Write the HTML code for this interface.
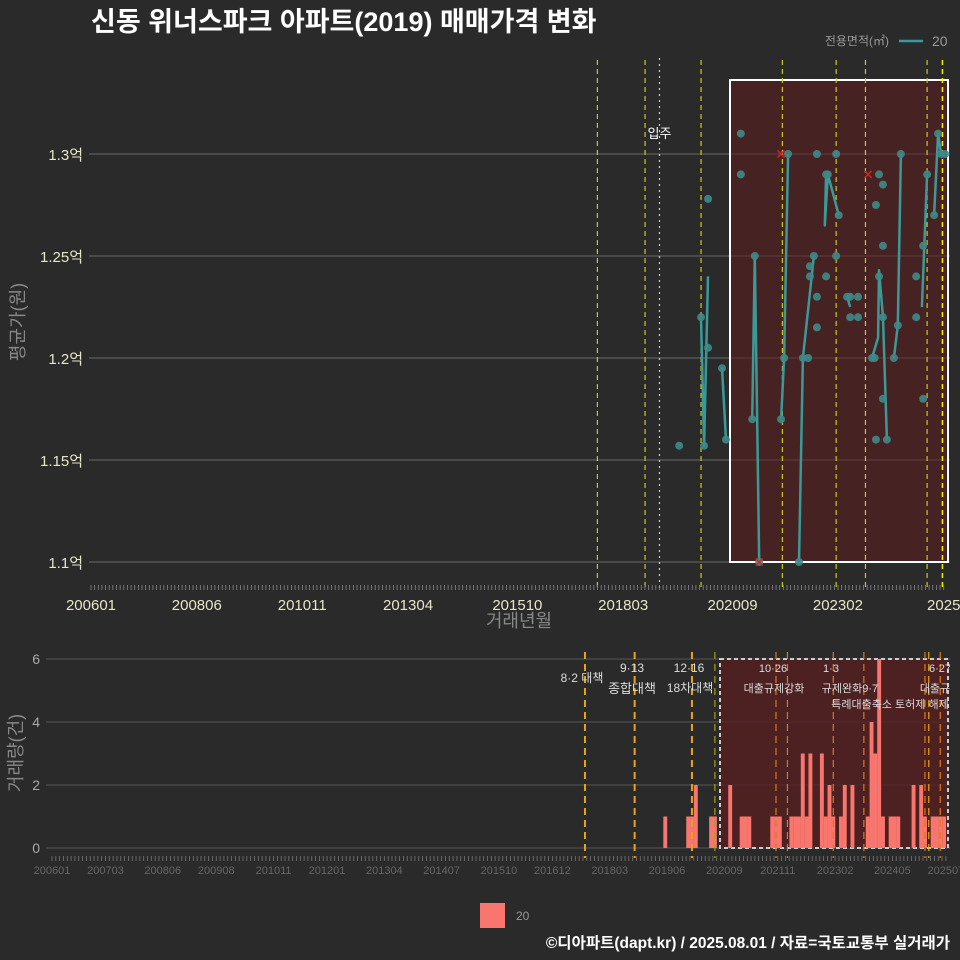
<!DOCTYPE html>
<html><head><meta charset="utf-8">
<style>
html,body{margin:0;padding:0;background:#2a2a2a;}
svg{display:block;font-family:"Liberation Sans","Noto Sans CJK KR",sans-serif;}
</style></head>
<body>
<svg id="chart" width="960" height="960" viewBox="0 0 960 960" xmlns="http://www.w3.org/2000/svg">
<rect x="0" y="0" width="960" height="960" fill="#2a2a2a"/>
<text x="91" y="31" font-size="27" font-weight="bold" fill="#ffffff">신동 위너스파크 아파트(2019) 매매가격 변화</text>
<g>
<text x="889" y="45" font-size="12" fill="#999" text-anchor="end">전용면적(㎡)</text>
<line x1="899" y1="41" x2="923" y2="41" stroke="#3a9a98" stroke-width="2.5"/>
<text x="932" y="46" font-size="14" fill="#999">20</text>
</g>
<g id="topPanel"></g>
<g id="botPanel"></g>
<g>
<rect x="480" y="903" width="25" height="25" fill="#f8766d"/>
<text x="516" y="920" font-size="12" fill="#999">20</text>
</g>
<text x="950" y="948" font-size="15.5" font-weight="bold" fill="#ffffff" text-anchor="end">©디아파트(dapt.kr) / 2025.08.01 / 자료=국토교통부 실거래가</text>
</svg>
<script>
// ---- data ----
const priceTicks = [1.1, 1.15, 1.2, 1.25, 1.3];
const priceTickLabels = ["1.1억","1.15억","1.2억","1.25억","1.3억"];
const topXLabels = ["200601","200806","201011","201304","201510","201803","202009","202302","2025"];
const topXLabelYears = [2006.0, 2008.42, 2010.83, 2013.25, 2015.75, 2018.17, 2020.67, 2023.08, 2025.5];
const pointYears = [2019.45,2019.95,2020.02,2020.11,2020.11,2020.43,2020.52,2020.86,2020.86,2021.12,2021.18,2021.28,2021.78,2021.85,2021.94,2022.19,2022.28,2022.40,2022.44,2022.44,2022.53,2022.60,2022.60,2022.60,2022.81,2022.85,2022.81,2023.04,2023.04,2023.10,2023.29,2023.36,2023.54,2023.36,2023.54,2023.86,2023.92,2023.95,2023.95,2024.02,2024.02,2024.11,2024.11,2024.11,2024.11,2024.20,2024.36,2024.45,2024.52,2024.87,2024.87,2025.03,2025.03,2025.12,2025.28,2025.37,2025.44,2025.53];
const pointPrices = [1.157,1.22,1.157,1.278,1.205,1.195,1.16,1.31,1.29,1.17,1.25,1.10,1.17,1.20,1.30,1.10,1.20,1.20,1.24,1.245,1.25,1.23,1.215,1.30,1.29,1.29,1.24,1.30,1.25,1.27,1.23,1.23,1.23,1.22,1.22,1.20,1.20,1.275,1.16,1.29,1.24,1.285,1.255,1.22,1.18,1.16,1.20,1.216,1.30,1.24,1.22,1.18,1.255,1.29,1.27,1.31,1.30,1.30];
const lineGroupYears = [[2019.95,2020.02,2020.11],[2020.43,2020.52],[2021.12,2021.18,2021.28],[2021.78,2021.85,2021.94],[2022.19,2022.28,2022.53],[2022.81,2022.78,2022.85,2023.10],[2023.29,2023.36],[2023.86,2024.0,2024.02,2024.11,2024.20],[2024.36,2024.45,2024.52],[2025.00,2025.12],[2025.28,2025.37,2025.44,2025.53]];
const lineGroupPrices = [[1.22,1.157,1.24],[1.195,1.16],[1.17,1.25,1.10],[1.17,1.20,1.30],[1.10,1.20,1.25],[1.29,1.265,1.29,1.27],[1.23,1.225],[1.20,1.21,1.243,1.22,1.16],[1.20,1.216,1.30],[1.225,1.29],[1.27,1.31,1.30,1.30]];
const redMarkYears = [2021.78,2023.77,2021.28];
const redMarkPrices = [1.30,1.29,1.10];
const topPolicyYears = [2017.58,2018.67,2019.95,2021.81,2023.04,2023.71,2025.12,2025.47];
const moveInYear = 2019.0;

const volMonths = ["201905","201911","201912","202001","202005","202006","202010","202101","202102","202103","202109","202110","202111","202202","202203","202204","202205","202206","202207","202210","202211","202212","202301","202303","202304","202306","202310","202311","202312","202401","202402","202404","202405","202406","202410","202412","202501","202503","202504","202505","202506"];
const volCounts = [1,1,1,2,1,1,2,1,1,1,1,1,1,1,1,1,3,1,3,3,1,2,1,1,2,2,1,4,3,6,1,1,1,1,2,2,1,1,1,1,1];
const volTicks = [0,2,4,6];
const botXLabels = ["200601","200703","200806","200908","201011","201201","201304","201407","201510","201612","201803","201906","202009","202111","202302","202405","202507"];
const botPolicyMonths = ["201708","201809","201912","202006","202110","202201","202301","202309","202501","202502","202505"];
const botPolicyColors = ["#e8a317","#e8a317","#e8a317","#a0a020","#e07818","#e07818","#e07818","#e07818","#e07818","#e8a317","#e07818"];

// ---- scales ----
const NS = "http://www.w3.org/2000/svg";
function mk(parent, tag, attrs){const e=document.createElementNS(NS,tag);for(const k in attrs)e.setAttribute(k,attrs[k]);parent.appendChild(e);return e;}
const tX = y => 91 + (y-2006)*43.73;
const tY = p => 562 - (p-1.1)/0.05*102;
const mIdx = s => (parseInt(s.slice(0,4))-2006)*12 + parseInt(s.slice(4,6))-1;
const bX = s => 54 + mIdx(s)*3.82;
const bY = v => 848 - v*31.5;

const topG = document.getElementById('topPanel');
const botG = document.getElementById('botPanel');

priceTicks.forEach((p,i)=>{
  const l=mk(topG,'line',{x1:89,x2:950,y1:tY(p),y2:tY(p),stroke:'#555','stroke-width':1.5});
  
  
  const t=mk(topG,'text',{x:83,y:tY(p)+6,'font-size':15,fill:'#e6e6c8','text-anchor':'end'});
  t.textContent=priceTickLabels[i];
  
  
});
{const r=mk(topG,'rect',{x:730,y:80,width:218,height:482,fill:'#5a1e20','fill-opacity':0.6,stroke:'#fff','stroke-width':2});

}
topPolicyYears.forEach((y,i)=>{
  const l=mk(topG,'line',{x1:tX(y),x2:tX(y),y1:60,y2:588,stroke:i==7?'#f0f000':'#c8c820','stroke-width':i==7?1.5:1.2,'stroke-dasharray':'5,4'});
  
  
});
{const l=mk(topG,'line',{x1:tX(moveInYear),x2:tX(moveInYear),y1:58,y2:588,stroke:'#ccc','stroke-width':1.2,'stroke-dasharray':'2,4'});


const t=mk(topG,'text',{x:tX(moveInYear),y:138,'font-size':13,fill:'#fff','text-anchor':'middle'});
t.textContent='입주';

}
lineGroupYears.forEach((ys,g)=>{
  const d=ys.map((y,i)=>(i?'L':'M')+tX(y).toFixed(1)+','+tY(lineGroupPrices[g][i]).toFixed(1)).join(' ');
  const p=mk(topG,'path',{d:d,fill:'none',stroke:'#3a9a98','stroke-width':2.5,'stroke-linejoin':'round'});
  
  
});
pointYears.forEach((y,i)=>{
  const c=mk(topG,'circle',{cx:tX(y),cy:tY(pointPrices[i]),r:4,fill:'#3e8a88','fill-opacity':0.9});
  
  
});
redMarkYears.forEach((y,i)=>{
  const x=tX(y),yy=tY(redMarkPrices[i]);
  const p=mk(topG,'path',{d:`M${x-3.5},${yy-3.5}L${x+3.5},${yy+3.5}M${x-3.5},${yy+3.5}L${x+3.5},${yy-3.5}`,stroke:'#e02020','stroke-width':1.5});
  
  
});
for(let m=0;m<=234;m++){
  const x=91+m*3.644;
  const l=mk(topG,'line',{x1:x,x2:x,y1:585,y2:590,stroke:'#888','stroke-width':0.8});
  
  
}
topXLabels.forEach((s,i)=>{
  const t=mk(topG,'text',{x:tX(topXLabelYears[i]),y:610,'font-size':15,fill:'#e6e6c8','text-anchor':'middle'});
  t.textContent=s;
  
  
});
{const t=mk(topG,'text',{x:519,y:627,'font-size':18,fill:'#888','text-anchor':'middle'});
t.textContent='거래년월';


const t2=mk(topG,'text',{x:0,y:0,'font-size':18,fill:'#888','text-anchor':'middle',transform:'translate(24,322) rotate(-90)'});
t2.textContent='평균가(원)';

}

volTicks.forEach(v=>{
  const l=mk(botG,'line',{x1:46,x2:950,y1:bY(v),y2:bY(v),stroke:'#555','stroke-width':1});
  
  
  const t=mk(botG,'text',{x:40,y:bY(v)+5,'font-size':14,fill:'#aaa','text-anchor':'end'});
  t.textContent=v;
  
  
});
{const r=mk(botG,'rect',{x:720,y:659,width:228,height:189,fill:'#5a1e20','fill-opacity':0.75,stroke:'#ccc','stroke-width':2,'stroke-dasharray':'4,3'});

}
volMonths.forEach((s,i)=>{
  const r=mk(botG,'rect',{x:bX(s)-1.9,y:bY(volCounts[i]),width:3.9,height:848-bY(volCounts[i]),fill:'#f8766d'});
  
  
});
botPolicyMonths.forEach((s,i)=>{
  const l=mk(botG,'line',{x1:bX(s),x2:bX(s),y1:652,y2:858,stroke:botPolicyColors[i],'stroke-width':i<3?2:1.2,'stroke-dasharray':'7,5'});
  
  
});
const notes=[["8·2 대책",582,682,'middle',12],["9·13",632,672,'middle',12],["종합대책",632,693,'middle',13],["12·16",689,672,'middle',12],["18차대책",690,692,'middle',12],["10·26",773,672,'middle',11],["대출규제강화",774,692,'middle',11],["1·3",831,672,'middle',11],["규제완화9·7",850,692,'middle',11],["특례대출축소 토허제 해제",890,708,'middle',11],["6·27",940,672,'middle',11],["대출규",935,692,'middle',11]];
notes.forEach(n=>{
  const t=mk(botG,'text',{x:n[1],y:n[2],'font-size':n[4],fill:'#ddd','text-anchor':n[3]});
  t.textContent=n[0];
  
  
});
{const r=mk(botG,'rect',{x:950,y:650,width:10,height:70,fill:'#2a2a2a'});

}
for(let m=0;m<=234;m++){
  const x=52+m*3.82;
  const l=mk(botG,'line',{x1:x,x2:x,y1:856,y2:861,stroke:'#777','stroke-width':0.8});
  
  
}
botXLabels.forEach(s=>{
  const t=mk(botG,'text',{x:bX(s)-2,y:874,'font-size':11,fill:'#666','text-anchor':'middle'});
  t.textContent=s;
  
  
});
{const t=mk(botG,'text',{x:0,y:0,'font-size':18,fill:'#888','text-anchor':'middle',transform:'translate(22,753) rotate(-90)'});
t.textContent='거래량(건)';

}
</script>
</body></html>
